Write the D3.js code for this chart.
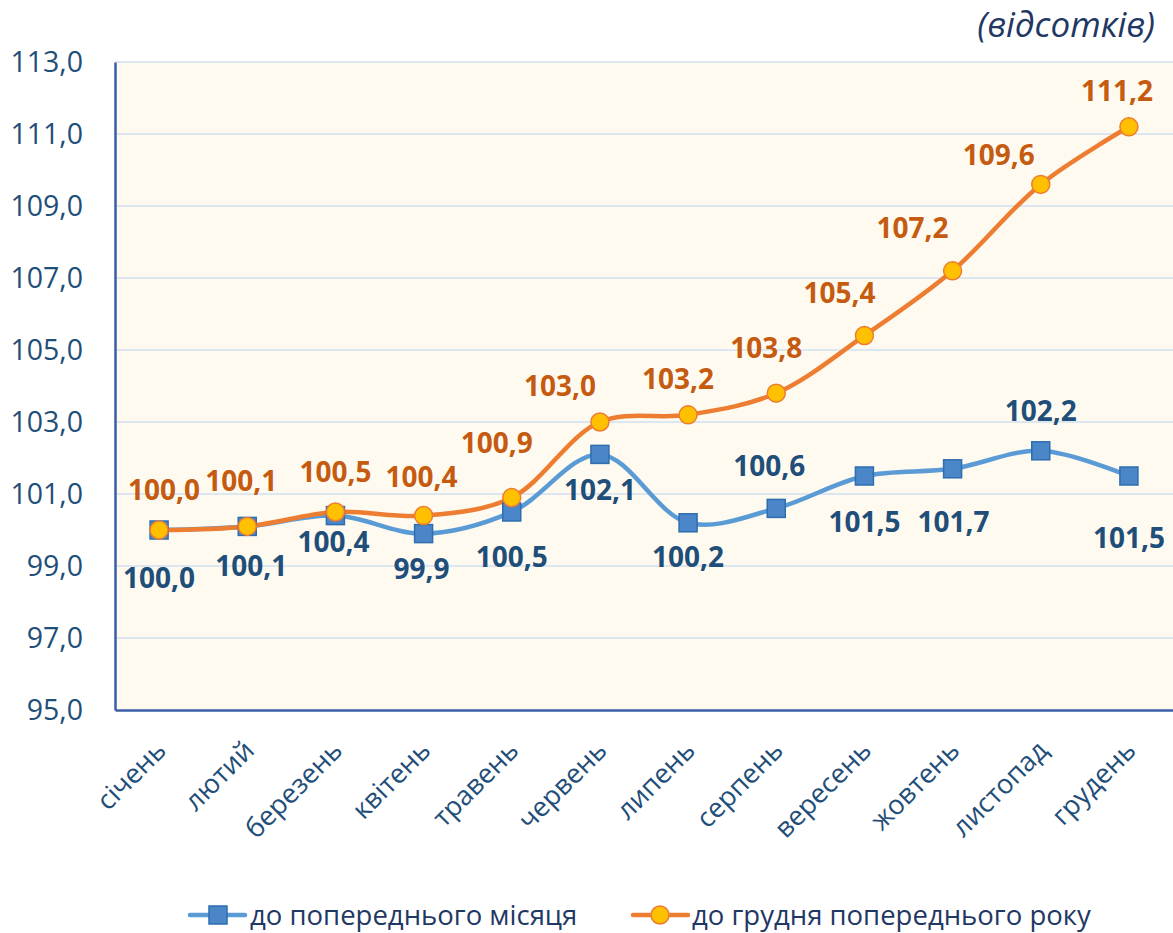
<!DOCTYPE html>
<html>
<head>
<meta charset="utf-8">
<script src="https://cdn.jsdelivr.net/npm/d3@7"></script>
<style>
  body { margin: 0; background: #ffffff; }
  text { font-family: "Open Sans", sans-serif; }
</style>
</head>
<body>
<div id="chart"></div>
<script>
// Datos del gráfico
const meses = ["січень", "лютий", "березень", "квітень", "травень", "червень",
  "липень", "серпень", "вересень", "жовтень", "листопад", "грудень"];
const doPoperednogoMisyacya = [100.0, 100.1, 100.4, 99.9, 100.5, 102.1, 100.2, 100.6, 101.5, 101.7, 102.2, 101.5];
const doGrudnya = [100.0, 100.1, 100.5, 100.4, 100.9, 103.0, 103.2, 103.8, 105.4, 107.2, 109.6, 111.2];
const ticksY = [95, 97, 99, 101, 103, 105, 107, 109, 111, 113];
const nombresSeries = ["до попереднього місяця", "до грудня попереднього року"];

// Desplazamiento de etiquetas (solo estilo)
const offAzul = [[0, 48], [4, 40], [-2, 27], [-2, 36], [0, 45], [0, 36], [0, 34], [-7, -42], [0, 46], [1, 53], [0, -40], [0, 62]];
const offNaranja = [[5, -40], [-6, -45], [0, -40], [-2, -38], [-15, -54], [-40, -36], [-10, -36], [-10, -45], [-25, -42], [-40, -43], [-42, -29], [-12, -36]];

const width = 1173, height = 933;
const margen = { left: 115, right: 1173, top: 62, bottom: 710 };

const svg = d3.select("#chart").append("svg")
  .attr("width", width).attr("height", height);

const x = d3.scalePoint().domain(meses).range([margen.left, margen.right]).padding(0.5);
const y = d3.scaleLinear().domain([95, 113]).range([margen.bottom, margen.top]);

// Fondo del área de trazado
svg.append("rect")
  .attr("x", margen.left).attr("y", margen.top)
  .attr("width", margen.right - margen.left).attr("height", margen.bottom - margen.top)
  .attr("fill", "#fefaf0");

// Líneas de cuadrícula
svg.append("g").selectAll("line")
  .data(ticksY.filter(d => d > 95))
  .join("line")
  .attr("x1", margen.left).attr("x2", margen.right)
  .attr("y1", d => y(d)).attr("y2", d => y(d))
  .attr("stroke", "#dde7f2").attr("stroke-width", 2);

// Eje Y
const ejeY = svg.append("g")
  .attr("transform", `translate(${margen.left},0)`)
  .call(d3.axisLeft(y).tickValues(ticksY).tickSize(0).tickPadding(32)
    .tickFormat(d => d3.format(".1f")(d).replace(".", ",")));
ejeY.select(".domain").attr("stroke", "#3a5ea8").attr("stroke-width", 2.5);
ejeY.selectAll("text").attr("font-size", 28.5).attr("fill", "#1f4e79")
  .attr("font-family", "Open Sans, sans-serif");

// Eje X
const ejeX = svg.append("g")
  .attr("transform", `translate(0,${margen.bottom})`)
  .call(d3.axisBottom(x).tickSize(0).tickSizeOuter(0));
ejeX.select(".domain").attr("stroke", "#3a5ea8").attr("stroke-width", 2.5);
ejeX.selectAll("text")
  .attr("font-size", 27).attr("fill", "#1f4e79")
  .attr("font-family", "Open Sans, sans-serif")
  .attr("text-anchor", "end")
  .attr("dy", 0)
  .attr("transform", "translate(6,40) rotate(-45)");

// Líneas suavizadas
const linea = d3.line()
  .x((d, i) => x(meses[i]))
  .y(d => y(d))
  .curve(d3.curveCatmullRom.alpha(0.5));

svg.append("path").datum(doPoperednogoMisyacya)
  .attr("d", linea).attr("fill", "none")
  .attr("stroke", "#5b9bd5").attr("stroke-width", 4.5).attr("stroke-linecap", "round");

svg.append("path").datum(doGrudnya)
  .attr("d", linea).attr("fill", "none")
  .attr("stroke", "#ed7d31").attr("stroke-width", 4.5).attr("stroke-linecap", "round");

// Marcadores
svg.append("g").selectAll("rect")
  .data(doPoperednogoMisyacya)
  .join("rect")
  .attr("x", (d, i) => x(meses[i]) - 9).attr("y", d => y(d) - 9)
  .attr("width", 18).attr("height", 18)
  .attr("fill", "#4a86c8").attr("stroke", "#2e6eb0").attr("stroke-width", 1.5);

svg.append("g").selectAll("circle")
  .data(doGrudnya)
  .join("circle")
  .attr("cx", (d, i) => x(meses[i])).attr("cy", d => y(d))
  .attr("r", 9)
  .attr("fill", "#ffc000").attr("stroke", "#ed7d31").attr("stroke-width", 1.5);

// Etiquetas de datos
const fmt = d => d3.format(".1f")(d).replace(".", ",");

svg.append("g").selectAll("text")
  .data(doPoperednogoMisyacya)
  .join("text")
  .attr("x", (d, i) => x(meses[i]) + offAzul[i][0])
  .attr("y", (d, i) => y(d) + offAzul[i][1])
  .attr("dy", "0.35em")
  .attr("text-anchor", "middle")
  .attr("font-size", 28).attr("font-weight", "bold")
  .attr("fill", "#1f4e79")
  .text(fmt);

svg.append("g").selectAll("text")
  .data(doGrudnya)
  .join("text")
  .attr("x", (d, i) => x(meses[i]) + offNaranja[i][0])
  .attr("y", (d, i) => y(d) + offNaranja[i][1])
  .attr("dy", "0.35em")
  .attr("text-anchor", "middle")
  .attr("font-size", 28).attr("font-weight", "bold")
  .attr("fill", "#c55a11")
  .text(fmt);

// Título de unidades
svg.append("text")
  .attr("x", 1155).attr("y", 37)
  .attr("text-anchor", "end")
  .attr("font-size", 35).attr("font-style", "italic")
  .attr("fill", "#1f3864")
  .text("(відсотків)");

// Leyenda
const leyenda = svg.append("g").attr("transform", "translate(0,915)");
leyenda.append("line").attr("x1", 190).attr("x2", 245).attr("y1", 0).attr("y2", 0)
  .attr("stroke", "#5b9bd5").attr("stroke-width", 4.5).attr("stroke-linecap", "round");
leyenda.append("rect").attr("x", 209).attr("y", -9).attr("width", 18).attr("height", 18)
  .attr("fill", "#4a86c8").attr("stroke", "#2e6eb0").attr("stroke-width", 1.5);
leyenda.append("text").attr("x", 250).attr("y", 0).attr("dy", "0.35em")
  .attr("font-size", 27.5).attr("fill", "#1f3864").text(nombresSeries[0]);

leyenda.append("line").attr("x1", 633).attr("x2", 688).attr("y1", 0).attr("y2", 0)
  .attr("stroke", "#ed7d31").attr("stroke-width", 4.5).attr("stroke-linecap", "round");
leyenda.append("circle").attr("cx", 660).attr("cy", 0).attr("r", 9)
  .attr("fill", "#ffc000").attr("stroke", "#ed7d31").attr("stroke-width", 1.5);
leyenda.append("text").attr("x", 692).attr("y", 0).attr("dy", "0.35em")
  .attr("font-size", 27.5).attr("fill", "#1f3864").text(nombresSeries[1]);
</script>
</body>
</html>
